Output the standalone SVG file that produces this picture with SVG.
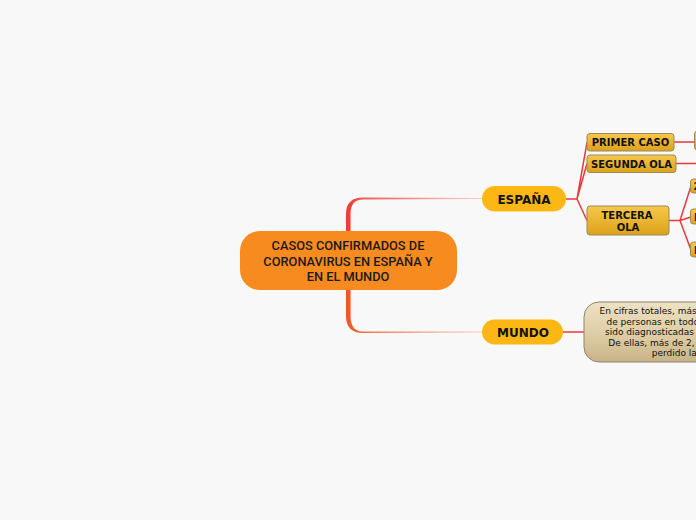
<svg xmlns="http://www.w3.org/2000/svg" width="696" height="520" viewBox="0 0 696 520">
<defs>
<linearGradient id="gold" x1="0" y1="0" x2="0" y2="1">
<stop offset="0" stop-color="#F7C84A"/><stop offset="1" stop-color="#DCA11A"/>
</linearGradient>
<linearGradient id="beige" x1="0" y1="0" x2="0" y2="1">
<stop offset="0" stop-color="#EEE2C4"/><stop offset="0.6" stop-color="#DCCAA2"/><stop offset="1" stop-color="#C8B386"/>
</linearGradient>
<linearGradient id="topLink" gradientUnits="userSpaceOnUse" x1="346" y1="0" x2="482" y2="0">
<stop offset="0" stop-color="#EE3B33"/><stop offset="0.15" stop-color="#F2625A"/><stop offset="1" stop-color="#F8CFCB"/>
</linearGradient>
<linearGradient id="botLink" gradientUnits="userSpaceOnUse" x1="346" y1="0" x2="482" y2="0">
<stop offset="0" stop-color="#EF5522"/><stop offset="0.15" stop-color="#F27447"/><stop offset="1" stop-color="#F8CDBE"/>
</linearGradient>
</defs>
<style>
.central{fill:#F78B1F}
.ctext{font-family:Roboto,"Liberation Sans",sans-serif;font-weight:500;font-size:12.8px;fill:#1A1A1A;text-anchor:middle}
.main{fill:#FDB714}
.mtext{font-family:"DejaVu Sans",Verdana,sans-serif;font-weight:bold;font-size:12px;fill:#111;text-anchor:middle}
.sub{fill:url(#gold);stroke:#9A8A5C;stroke-width:1}
.stext{font-family:"DejaVu Sans",Verdana,sans-serif;font-weight:bold;font-size:10px;fill:#111;text-anchor:middle}
.note{fill:url(#beige);stroke:#8E8470;stroke-width:1}
.ntext{font-family:"DejaVu Sans",Verdana,sans-serif;font-size:9px;fill:#111}
.link{fill:none;stroke:#E8393D;stroke-width:1.5}
</style>
<rect width="696" height="520" fill="#F8F8F8"/>
<g id="connectors">
<path d="M346,234 V214 Q346,197.5 363,197.5 L482,198 L482,199 L363,199.6 Q350.6,199.6 350.6,214 V234 Z" fill="url(#topLink)"/>
<path d="M346,288 V316 Q346,333 363,333 L482,332.6 L482,331.6 L363,331.4 Q350.6,331.4 350.6,316 V288 Z" fill="url(#botLink)"/>
<path class="link" d="M566,199 H577 L587,142.5 M577,199 L587,163.5 M577,199 L587,220.5"/>
<path class="link" d="M669,220.5 H680 L691,186 M680,220.5 L691,217 M680,220.5 L691,250"/>
<path class="link" d="M674,142 H695" stroke="#F07278"/>
<path class="link" d="M676,163.5 H696" stroke="#E0303F"/>
<path class="link" d="M563,332 H584" stroke="#F05A28"/>
</g>
<g id="central">
<rect class="central" x="240" y="231" width="217" height="59" rx="20"/>
<text class="ctext" x="348" y="250">CASOS CONFIRMADOS DE</text>
<text class="ctext" x="348" y="266">CORONAVIRUS EN ESPAÑA Y</text>
<text class="ctext" x="348" y="281">EN EL MUNDO</text>
</g>
<g id="espana">
<rect class="main" x="482" y="186" width="84" height="25.5" rx="12.7"/>
<text class="mtext" x="524" y="203.5">ESPAÑA</text>
</g>
<g id="mundo">
<rect class="main" x="482" y="319.5" width="81" height="25" rx="12.5"/>
<text class="mtext" x="523" y="336.5">MUNDO</text>
</g>
<g id="primer-caso">
<rect class="sub" x="587" y="133.5" width="87" height="17.5" rx="3"/>
<text class="stext" x="630.5" y="146">PRIMER CASO</text>
</g>
<g id="segunda-ola">
<rect class="sub" x="587" y="155" width="89" height="17.5" rx="3"/>
<text class="stext" x="631.5" y="167.5">SEGUNDA OLA</text>
</g>
<g id="tercera-ola">
<rect class="sub" x="587" y="206" width="82" height="29" rx="3"/>
<text class="stext" x="627" y="218.5">TERCERA</text>
<text class="stext" x="628" y="230.5">OLA</text>
</g>
<g id="primer-caso-child">
<rect class="sub" x="694.5" y="131" width="20" height="19" rx="3"/>
</g>
<g id="tercera-child-1">
<rect class="sub" x="690.5" y="179" width="20" height="14" rx="3"/>
<text class="stext" x="693.5" y="190" style="text-anchor:start">2</text>
</g>
<g id="tercera-child-2">
<rect class="sub" x="690.5" y="209" width="20" height="15" rx="3"/>
<text class="stext" x="694" y="220.5" style="text-anchor:start">E</text>
</g>
<g id="tercera-child-3">
<rect class="sub" x="690.5" y="242" width="20" height="15" rx="3"/>
<text class="stext" x="694" y="253.5" style="text-anchor:start">E</text>
</g>
<g id="mundo-note">
<rect class="note" x="584" y="302" width="140" height="60" rx="15"/>
<text class="ntext" x="599.5" y="314">En cifras totales, más</text>
<text class="ntext" x="606.5" y="324.5">de personas en todo</text>
<text class="ntext" x="605" y="335">sido diagnosticadas</text>
<text class="ntext" x="608.3" y="345.5">De ellas, más de 2,</text>
<text class="ntext" x="651.7" y="356">perdido la</text>
</g>
</svg>
